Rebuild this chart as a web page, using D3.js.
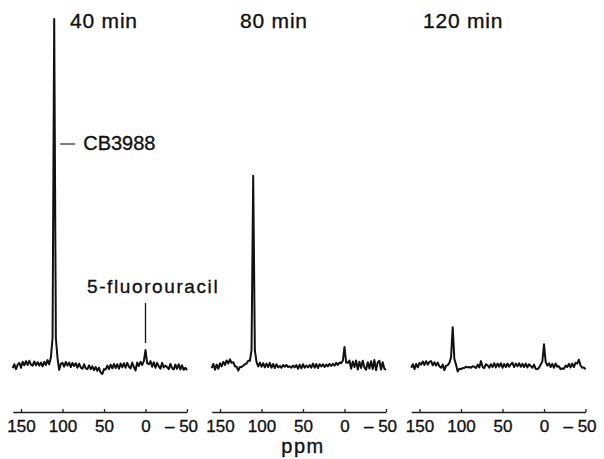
<!DOCTYPE html>
<html>
<head>
<meta charset="utf-8">
<script src="https://cdn.jsdelivr.net/npm/d3@7"></script>
<style>
    body { margin: 0; background: #ffffff; }
    text { font-family: "Liberation Sans", Arial, sans-serif; fill: #111; stroke: #111; stroke-width: 0.35px; }
</style>
</head>
<body>
<div id="canvas"></div>
<script>
"use strict";

/*
    19F NMR spectra at three time points (40, 80, 120 min).
    Each trace is sampled every 2 ppm from 160 down to -50 ppm.
*/

// Chemical shift grid (x values shared by all three spectra)
let ppm = d3.range(160, -51, -2);

let panelTitles = ["40 min", "80 min", "120 min"];
let tickValues = [150, 100, 50, 0, -50];

// Intensities (CB3988 peak at 40 min = 100)
let spectrum40 = [
    -0.6, 0.5, -0.9, 0.4, 0.9, -0.5,
    1.2, 0.2, 1.4, 0.3, 1.5, 0.4, 0.1, 1.3, 0.2, 1.1,
    0.1, 1.0, -0.1, 1.2, 0.3, 1.7, 0.5,
    2.5, 8, 100, 8, 2.3,
    -1.1, 0.6, 0.9, -0.2, 1.2, 0.1, 1.0, -0.3, 0.9, 0.0,
    0.8, -0.5, 0.7, -0.4, -0.8, 0.5, -0.7, -0.9, 0.2, -0.9,
    -0.1, -1.2, -0.3, -1.4, -0.5, -1.9, -2.3, -0.9, -1.0, 0.1,
    -0.9, 0.4, -0.7, 0.6, -0.6, 0.5, -0.8, 0.7, -0.4, 0.8,
    -0.5, 0.9, -0.2, -0.7, 1.0, -0.3, -1.3, 1.0, 0.0, 1.2,
    0.3, 1.4, 4.6, 0.8, 0.5,
    1.4, -0.2, 1.1, -0.5, 0.9, -0.1, -0.8, 0.9, -0.4, 0.1,
    -0.3, -0.9, 0.6, -0.6, -1.0, 0.4, -0.8, 0.5, -1.0, 0.2, -1.1, -0.5, -1.2
];

let spectrum80 = [
    -0.6, 0.6, -1.1, 0.4, -0.8, 0.8,
    -0.1, 1.2, 0.3, 1.6, 0.7, 1.9, 0.9, 1.1, -0.1, -0.2,
    -1.3, -0.3, -0.3, 0.1, 0.5, 0.7, 1.5,
    1.5, 4.5, 54.8, 4.5, 1.2,
    -0.1, 1.0, -0.2, 0.8, -0.4, 0.7, -0.3, 0.9, -0.5, 0.6,
    -0.6, 0.5, -0.4, 0.0, -0.5, 0.3, -0.2, 0.3, -0.3, -0.1,
    -0.5, 0.1, -0.4, 0.3, -0.8, 0.4, -0.7, 0.5, -0.5, 0.1,
    -0.4, 0.3, -0.5, 0.7, -0.5, 0.6, -0.6, 0.5, -0.1, 0.5,
    -0.3, 0.4, -0.1, 0.6, 0.0, 0.6, 0.1, 0.9, 0.3, 1.0,
    0.8, 1.5, 5.5, 1.0, 0.9,
    1.6, -0.8, 1.3, -0.3, 1.6, -1.0, 1.2, -0.6, 1.5, -0.4,
    -1.1, 1.1, -0.7, 1.4, -0.9, 1.7, -1.2, 1.0, 1.5, -1.0, 1.1, -0.8, -1.1
];

let spectrum120 = [
    -0.5, 0.5, -0.9, 0.6, -0.4, 0.9,
    0.4, 1.3, 0.3, 1.4, 0.4, 1.2, 1.4, 0.2, 1.1, 0.1,
    1.0, -0.1, -0.5, 0.4, -1.2, 0.1, 0.2,
    0.9, 2.5, 11.2, 2.0, 0.4,
    -1.6, -0.8, -0.9, -0.6, -0.6, -0.2, -0.4, -0.3, -0.5, -0.1,
    -0.2, -0.6, 0.4, -0.4, 1.4, -0.3, -0.6, 0.5, 0.2, -0.5,
    0.5, -0.3, 0.8, -0.4, 0.7, -0.2, 0.8, -0.5, 0.6, -0.3,
    0.7, -0.2, 0.5, 0.9, -0.3, 0.7, -0.1, 0.8, -0.2, 0.6,
    -0.3, 0.7, -0.4, 0.5, 0.0, -0.5, 0.4, -0.8, -0.9, -0.5,
    0.4, 1.3, 6.3, 1.2, 0.1,
    0.8, -0.3, 0.6, -0.5, 0.7, -0.2, -0.1, -0.9, -0.7, -0.8,
    0.1, -0.3, 0.6, -0.4, 0.7, -0.3, 0.9, 0.7, 1.8, 0.2, -0.5, -0.4, -1.0
];

let cbShift = 110;   // CB3988 signal, ppm
let fuShift = 0;     // 5-fluorouracil signal, ppm

/* Layout */
let svgWidth = 604;
let svgHeight = 459;
let panelLeft = [21, 220, 419.5]; // pixel of the 150 ppm tick in each panel
let panelSpan = 166;              // pixels from 150 to -50 ppm
let titleX = [70, 240, 423];
let axisY = 412;

let svg;

(function() {
    buildVisualization();
})();

function buildVisualization() {
    svg = d3.select("#canvas")
        .append("svg")
        .attr("width", svgWidth)
        .attr("height", svgHeight);

    svg.append("rect")
        .attr("width", svgWidth)
        .attr("height", svgHeight)
        .attr("fill", "#ffffff");

    let yScale = d3.scaleLinear()
        .domain([0, 100])
        .range([366, 19]);

    let spectra = [spectrum40, spectrum80, spectrum120];

    for (let p = 0; p < spectra.length; p++) {
        drawPanel(p, spectra[p], yScale);
    }

    // shared x axis label
    svg.append("text")
        .attr("x", 303)
        .attr("y", 453)
        .attr("text-anchor", "middle")
        .style("font-size", "20px")
        .style("letter-spacing", "1.5px")
        .text("ppm");
}

function makeXScale(p) {
    // 200 ppm over panelSpan pixels; the trace starts at 160 ppm
    let pxPerPpm = panelSpan / 200;
    return d3.scaleLinear()
        .domain([160, -50])
        .range([panelLeft[p] - 10 * pxPerPpm, panelLeft[p] + panelSpan]);
}

function drawPanel(p, values, yScale) {
    let xScale = makeXScale(p);

    let line = d3.line()
        .x(function(d, i) { return xScale(ppm[i]); })
        .y(function(d) { return yScale(d); });

    svg.append("path")
        .datum(values)
        .attr("d", line)
        .attr("fill", "none")
        .attr("stroke", "#111")
        .attr("stroke-width", 2)
        .attr("stroke-linejoin", "round");

    // axis with ticks pointing up
    let xAxis = d3.axisBottom(xScale)
        .tickValues(tickValues)
        .tickSizeInner(-3)
        .tickSizeOuter(0)
        .tickPadding(8);

    let g = svg.append("g")
        .attr("transform", "translate(0," + axisY + ")")
        .call(xAxis);

    g.select(".domain").attr("stroke", "#222").attr("stroke-width", 1.3);
    g.selectAll(".tick line").attr("stroke", "#222").attr("stroke-width", 1.3);
    g.selectAll(".tick text")
        .style("font-size", "17px")
        .style("font-family", "'Liberation Sans', Arial, sans-serif")
        .attr("fill", "#111")
        .attr("dx", function(d) { return d < 0 ? "-6px" : null; })
        .text(function(d) { return d < 0 ? "\u2013 " + Math.abs(d) : d; });

    // panel title
    svg.append("text")
        .attr("x", titleX[p])
        .attr("y", 28)
        .style("font-size", "21px")
        .style("letter-spacing", "0.8px")
        .text(panelTitles[p]);

    if (p === 0) {
        drawPeakLabels(xScale, yScale);
    }
}

function drawPeakLabels(xScale, yScale) {
    // CB3988: short dash beside the tall peak
    let cbX = xScale(cbShift);
    svg.append("line")
        .attr("x1", cbX + 6)
        .attr("x2", cbX + 21)
        .attr("y1", 144)
        .attr("y2", 144)
        .attr("stroke", "#111")
        .attr("stroke-width", 1.1);

    svg.append("text")
        .attr("x", cbX + 29)
        .attr("y", 150)
        .style("font-size", "20px")
        .text("CB3988");

    // 5-fluorouracil: vertical marker above the small peak
    let fuX = xScale(fuShift);
    svg.append("line")
        .attr("x1", fuX)
        .attr("x2", fuX)
        .attr("y1", 303)
        .attr("y2", 343)
        .attr("stroke", "#111")
        .attr("stroke-width", 1.3);

    svg.append("text")
        .attr("x", 87)
        .attr("y", 293)
        .style("font-size", "19px")
        .style("letter-spacing", "1.6px")
        .text("5-fluorouracil");
}
</script>
</body>
</html>
